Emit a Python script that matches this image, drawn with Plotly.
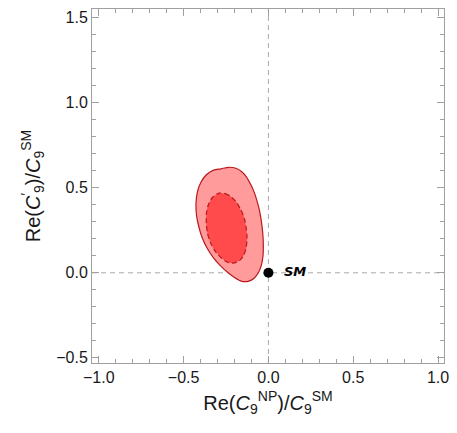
import plotly.graph_objects as go

# Outer (2 sigma) contour boundary (clockwise from the top)
outer_x = [-0.279, -0.233, -0.192, -0.157, -0.128, -0.105, -0.084, -0.067, -0.052, -0.041,
           -0.033, -0.030, -0.032, -0.041, -0.058, -0.084, -0.119, -0.157, -0.198, -0.241,
           -0.285, -0.326, -0.360, -0.390, -0.410, -0.424, -0.427, -0.419, -0.398, -0.366,
           -0.326]
outer_y = [0.611, 0.620, 0.614, 0.594, 0.561, 0.520, 0.474, 0.421, 0.363, 0.298,
           0.228, 0.158, 0.099, 0.047, 0.003, -0.032, -0.050, -0.050, -0.029, 0.003,
           0.044, 0.091, 0.143, 0.205, 0.269, 0.339, 0.409, 0.474, 0.532, 0.576,
           0.602]

# Inner (1 sigma) contour boundary
inner_x = [-0.291, -0.256, -0.221, -0.189, -0.163, -0.142, -0.131, -0.126, -0.131, -0.145,
           -0.169, -0.201, -0.238, -0.276, -0.311, -0.340, -0.359, -0.366, -0.365, -0.352,
           -0.326]
inner_y = [0.468, 0.465, 0.447, 0.415, 0.371, 0.319, 0.263, 0.205, 0.149, 0.105,
           0.073, 0.058, 0.061, 0.085, 0.123, 0.173, 0.231, 0.292, 0.354, 0.406,
           0.447]

sm_x = [0.0]
sm_y = [0.0]
sm_label = ["SM"]

x_ticks = [-1.0, -0.5, 0.0, 0.5, 1.0]
y_ticks = [-0.5, 0.0, 0.5, 1.0, 1.5]

edge = "rgb(185,25,30)"

fig = go.Figure()
fig.add_trace(go.Scatter(
    x=outer_x + outer_x[:1], y=outer_y + outer_y[:1], mode="lines",
    line=dict(color=edge, width=1.2, shape="spline", smoothing=0.8),
    fill="toself", fillcolor="rgb(255,155,155)", hoverinfo="skip"))
fig.add_trace(go.Scatter(
    x=inner_x + inner_x[:1], y=inner_y + inner_y[:1], mode="lines",
    line=dict(color=edge, width=1.2, dash="5px,3px", shape="spline", smoothing=0.8),
    fill="toself", fillcolor="rgb(255,75,75)", hoverinfo="skip"))
fig.add_trace(go.Scatter(
    x=sm_x, y=sm_y, mode="markers+text", text=["  <b><i>" + t + "</i></b>" for t in sm_label],
    textposition="middle right",
    textfont=dict(family="DejaVu Sans", size=13, color="black"),
    marker=dict(color="black", size=10)))

fig.add_shape(type="line", xref="x", yref="paper", x0=0, x1=0, y0=0, y1=1,
              line=dict(color="rgb(170,170,170)", width=1, dash="5px,4px"), layer="below")
fig.add_shape(type="line", xref="paper", yref="y", x0=0, x1=1, y0=0, y1=0,
              line=dict(color="rgb(170,170,170)", width=1, dash="5px,4px"), layer="below")

axis_common = dict(
    showgrid=False, zeroline=False, showline=True, linecolor="rgb(160,160,160)",
    linewidth=1, mirror="allticks", ticks="inside", ticklen=7, tickcolor="rgb(160,160,160)",
    tickformat=".1f", tickfont=dict(family="Liberation Sans", size=16, color="rgb(25,25,25)"),
    minor=dict(dtick=0.1, ticks="inside", ticklen=4, tickcolor="rgb(160,160,160)", showgrid=False),
)

fig.update_layout(
    width=457, height=433, margin=dict(l=92, r=9, t=8, b=70),
    paper_bgcolor="white", plot_bgcolor="white", showlegend=False,
    xaxis=dict(range=[-1.04, 1.035], tickvals=x_ticks,
               title=dict(text="Re(<i>C</i><sub>9</sub><sup>NP</sup>)/<i>C</i><sub>9</sub><sup>SM</sup>",
                          font=dict(family="Liberation Sans", size=20, color="rgb(25,25,25)"),
                          standoff=10),
               **axis_common),
    yaxis=dict(range=[-0.53, 1.55], tickvals=y_ticks,
               title=dict(text="Re(<i>C</i><sup>′</sup><sub>9</sub>)/<i>C</i><sub>9</sub><sup>SM</sup>",
                          font=dict(family="Liberation Sans", size=20, color="rgb(25,25,25)"),
                          standoff=10),
               **axis_common),
)

fig.write_html("out.html")
